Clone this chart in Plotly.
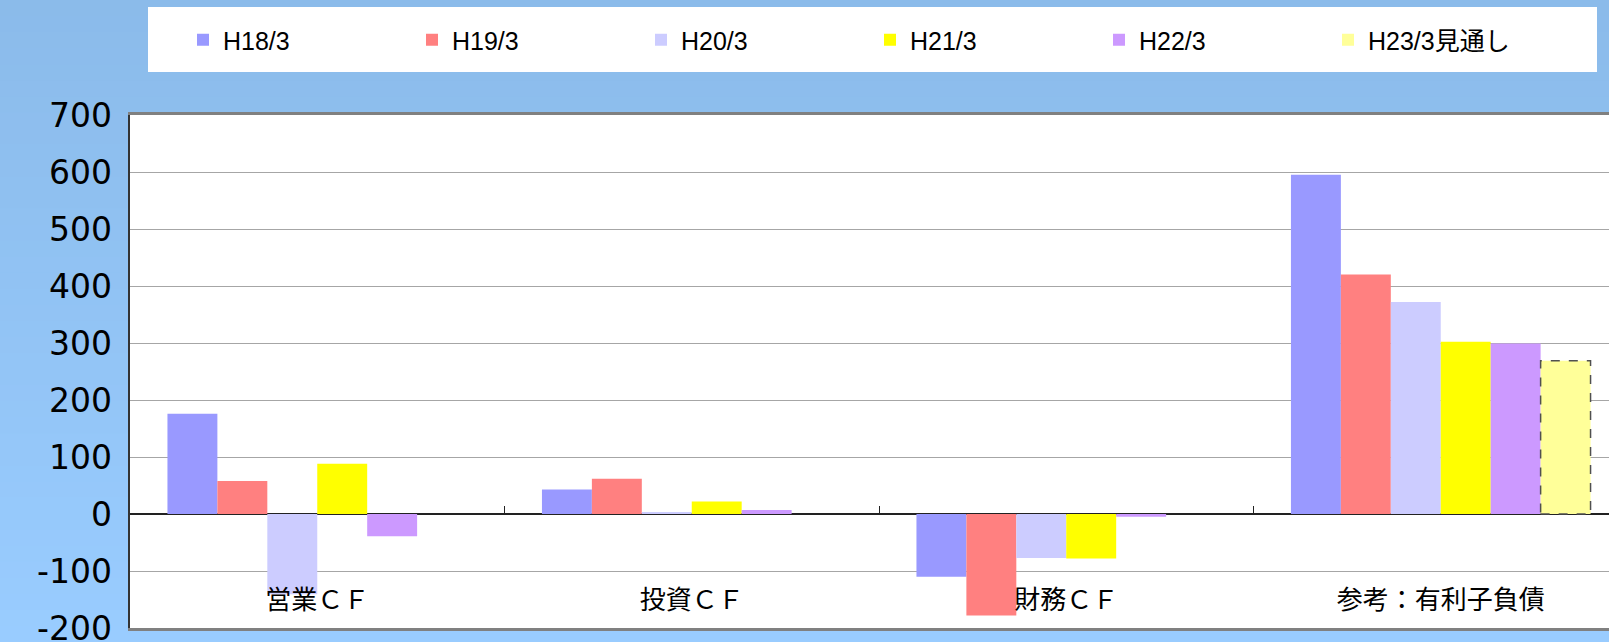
import plotly.graph_objects as go

categories = ["営業ＣＦ", "投資ＣＦ", "財務ＣＦ", "参考：有利子負債"]
series_names = ["H18/3", "H19/3", "H20/3", "H21/3", "H22/3", "H23/3見通し"]
h18 = [176, 43, -110, 595]
h19 = [58, 62, -178, 420]
h20 = [-141, 3, -77, 372]
h21 = [88, 22, -78, 302]
h22 = [-39, 7, -5, 299]
h23 = [None, None, None, 269]
series_values = [h18, h19, h20, h21, h22, h23]
colors = ["#9999FF", "#FF8080", "#CCCCFF", "#FFFF00", "#CC99FF", "#FFFF99"]
y_ticks = list(range(-200, 701, 100))

W, H = 1609, 642
ML, MR, MT, MB = 130, 0, 115, 14
PW, PH = W - ML - MR, H - MT - MB
BARGAP = 0.2
CAT_PX = 374.5
Y_RANGE = [-200, 700]


def px_x(p):
    return (p - ML) / PW


def px_y(p):
    return (H - MB - p) / PH


fig = go.Figure()
for name, vals, col in zip(series_names, series_values, colors):
    fig.add_trace(go.Bar(x=categories, y=vals, name=name,
                         marker=dict(color=col, line=dict(width=0)),
                         xaxis="x", yaxis="y"))

# invisible helper trace for the zero-line tick axis / label axis
fig.add_trace(go.Scatter(x=categories, y=[0] * len(categories), mode="markers",
                         marker=dict(opacity=0), showlegend=False,
                         hoverinfo="skip", xaxis="x2", yaxis="y2"))

shapes = []
# background gradient bands
N = 40
top = (139, 187, 234)
bot = (153, 204, 255)
for i in range(N):
    t = i / (N - 1)
    c = tuple(round(top[k] + (bot[k] - top[k]) * t) for k in range(3))
    y0p = H * i / N
    y1p = H * (i + 1) / N + 1
    shapes.append(dict(type="rect", xref="paper", yref="paper",
                       x0=px_x(-2), x1=px_x(W + 2), y0=px_y(y1p), y1=px_y(y0p),
                       fillcolor="rgb(%d,%d,%d)" % c, line=dict(width=0), layer="below"))
# legend white box
shapes.append(dict(type="rect", xref="paper", yref="paper",
                   x0=px_x(148), x1=px_x(1597), y0=px_y(72), y1=px_y(7),
                   fillcolor="white", line=dict(width=0), layer="below"))
# plot area white
shapes.append(dict(type="rect", xref="x domain", yref="y domain",
                   x0=0, x1=1, y0=0, y1=1, fillcolor="white",
                   line=dict(width=0), layer="below"))

# dashed outline for forecast bars
nser = len(series_names)
bw = (1 - BARGAP) / nser
idx = nser - 1
for ci, v in enumerate(h23):
    if v is None:
        continue
    center = ci - (1 - BARGAP) / 2 + (idx + 0.5) * bw
    shapes.append(dict(type="rect", xref="x", yref="y",
                       x0=center - bw / 2, x1=center + bw / 2, y0=0, y1=v,
                       line=dict(color="#505050", width=1.5, dash="dash"),
                       fillcolor="rgba(0,0,0,0)", layer="above"))

xr = [-0.5, -0.5 + PW / CAT_PX]

fig.update_layout(
    width=W, height=H,
    margin=dict(l=ML, r=MR, t=MT, b=MB, pad=0, autoexpand=False),
    paper_bgcolor="#92C3F4",
    plot_bgcolor="white",
    barmode="group",
    bargap=BARGAP,
    bargroupgap=0,
    shapes=shapes,
    showlegend=True,
    legend=dict(orientation="h", x=px_x(183), xanchor="left",
                y=px_y(40), yanchor="middle",
                bgcolor="rgba(0,0,0,0)", borderwidth=0,
                font=dict(family="Liberation Sans, Noto Sans CJK JP", size=25, color="black"),
                entrywidth=184, entrywidthmode="pixels",
                itemsizing="constant", traceorder="normal"),
    xaxis=dict(type="category", range=xr,
               showgrid=False, zeroline=False,
               showline=True, linecolor="#808080", linewidth=2.5, mirror=True,
               ticks="", ticklabelposition="inside", ticklabelstandoff=16,
               tickfont=dict(family="Noto Sans CJK JP", size=26, color="black")),
    xaxis2=dict(type="category", overlaying="x", anchor="free", position=2 / 9,
                range=xr, side="bottom",
                showgrid=False, zeroline=False, showline=False,
                ticks="inside", tickson="boundaries", ticklen=8, tickwidth=1.2,
                tickcolor="#222222", showticklabels=False),
    yaxis=dict(range=Y_RANGE, tickvals=y_ticks,
               showgrid=True, gridcolor="#A6A6A6", gridwidth=1.2,
               zeroline=True, zerolinecolor="#222222", zerolinewidth=1.5,
               showline=True, linecolor="#333333", linewidth=1.5, mirror=False,
               ticks="", showticklabels=False),
    yaxis2=dict(range=Y_RANGE, overlaying="y", anchor="x2", side="left",
                tickvals=y_ticks, ticktext=[str(v) for v in y_ticks],
                showgrid=False, zeroline=False, showline=False,
                ticks="", ticklabelstandoff=17, ticklabeloverflow="allow",
                tickfont=dict(family="DejaVu Sans", size=33, color="black")),
)

fig.write_html("out.html",
               config={"displayModeBar": False},
               post_script="document.documentElement.style.margin='0';"
                           "document.body.style.margin='0';"
                           "document.body.style.background='#99CCFF';"
                           "document.body.style.overflow='hidden';")
